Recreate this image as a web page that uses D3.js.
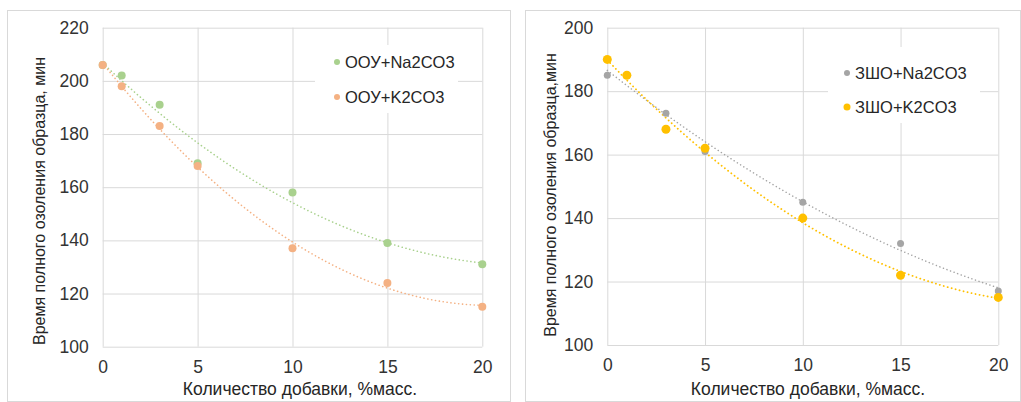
<!DOCTYPE html>
<html>
  <head>
    <meta charset="utf-8">
    <title></title>
    <style>
      body {
        margin: 0;
        background: #fff;
        font-family: "Liberation Sans", Arial, sans-serif;
      }
      svg {
        display: block;
      }
      .axis .domain {
        stroke: none;
      }
      .grid line {
        stroke: #d9d9d9;
      }
    </style>
  </head>
  <body>
    <svg width="1021" height="402"></svg>
    <script src="https://cdn.jsdelivr.net/npm/d3@7"></script>
    <script>

      // additive amount, % mass
      let xValues = [0, 1, 3, 5, 10, 15, 20];
      let xTicks = [0, 5, 10, 15, 20];

      // left chart
      let oouNa = [206, 202, 191, 169, 158, 139, 131];
      let oouK = [206, 198, 183, 168, 137, 124, 115];
      let leftTicks = [100, 120, 140, 160, 180, 200, 220];

      // right chart
      let zshoNa = [185, 185, 173, 161, 145, 132, 117];
      let zshoK = [190, 185, 168, 162, 140, 122, 115];
      let rightTicks = [100, 120, 140, 160, 180, 200];

      let svg = d3.select('svg');

      // quadratic least-squares fit, like an Excel polynomial trendline
      function polyFit(xs, ys) {
        let s = [0, 0, 0, 0, 0], t = [0, 0, 0];
        xs.forEach((x, i) => {
          for (let k = 0; k < 5; k++) s[k] += Math.pow(x, k);
          for (let k = 0; k < 3; k++) t[k] += ys[i] * Math.pow(x, k);
        });
        let m = [
          [s[0], s[1], s[2], t[0]],
          [s[1], s[2], s[3], t[1]],
          [s[2], s[3], s[4], t[2]]
        ];
        for (let c = 0; c < 3; c++) {
          for (let r = c + 1; r < 3; r++) {
            let f = m[r][c] / m[c][c];
            for (let k = c; k < 4; k++) m[r][k] -= f * m[c][k];
          }
        }
        let a = [0, 0, 0];
        for (let r = 2; r >= 0; r--) {
          let v = m[r][3];
          for (let k = r + 1; k < 3; k++) v -= m[r][k] * a[k];
          a[r] = v / m[r][r];
        }
        return x => a[0] + a[1] * x + a[2] * x * x;
      }

      function drawChart(opt) {
        let g = svg.append('g');

        // outer frame
        g.append('rect')
          .attr('x', opt.frame[0] + 0.5).attr('y', opt.frame[1] + 0.5)
          .attr('width', opt.frame[2]).attr('height', opt.frame[3])
          .attr('fill', 'none').attr('stroke', '#d9d9d9');

        let x = d3.scaleLinear().domain([0, 20]).range(opt.xRange);
        let y = d3.scaleLinear().domain(d3.extent(opt.yTicks)).range(opt.yRange);
        let w = opt.xRange[1] - opt.xRange[0];
        let h = opt.yRange[0] - opt.yRange[1];

        g.append('g')
          .attr('class', 'axis grid')
          .attr('transform', 'translate(' + opt.xRange[0] + ',0)')
          .call(d3.axisLeft(y).tickValues(opt.yTicks).tickSize(-w).tickPadding(14));

        g.append('g')
          .attr('class', 'axis grid')
          .attr('transform', 'translate(0,' + opt.yRange[0] + ')')
          .call(d3.axisBottom(x).tickValues(xTicks).tickSize(-h).tickPadding(14));

        g.selectAll('.axis')
          .attr('font-family', null)
          .attr('font-size', 17.5);
        g.selectAll('.axis text').attr('fill', '#333');

        // legend box hides the grid under it
        g.append('rect')
          .attr('x', opt.legendBox[0]).attr('y', opt.legendBox[1])
          .attr('width', opt.legendBox[2]).attr('height', opt.legendBox[3])
          .attr('fill', '#fff');

        let line = d3.line()
          .x(d => x(d[0]))
          .y(d => y(d[1]));

        opt.series.forEach(s => {
          let f = polyFit(xValues, s.values);
          let pts = d3.range(0, 20.01, 0.25).map(v => [v, f(v)]);
          g.append('path')
            .datum(pts)
            .attr('fill', 'none')
            .attr('stroke', s.color)
            .attr('stroke-width', s.lw)
            .attr('stroke-linecap', 'round')
            .attr('stroke-dasharray', '0.1,' + (s.lw + 2.2))
            .attr('d', line);
        });

        opt.series.forEach(s => {
          g.append('g').selectAll('circle')
            .data(s.values)
            .join('circle')
            .attr('cx', (d, i) => x(xValues[i]))
            .attr('cy', d => y(d))
            .attr('r', s.r)
            .attr('fill', s.color);
        });

        // legend
        opt.series.forEach((s, i) => {
          let ly = opt.legendY[i];
          g.append('circle')
            .attr('cx', opt.legendX).attr('cy', ly)
            .attr('r', s.lr).attr('fill', s.color);
          g.append('text')
            .attr('x', opt.legendX + 8).attr('y', ly + 6)
            .attr('font-size', 16.5).attr('fill', '#262626')
            .text(s.name);
        });

        // axis titles
        g.append('text')
          .attr('x', opt.xTitle[0]).attr('y', opt.xTitle[1])
          .attr('text-anchor', 'middle')
          .attr('font-size', 17.5).attr('fill', '#262626')
          .text('Количество добавки, %масс.');

        g.append('text')
          .attr('transform', 'translate(' + opt.yTitle[0] + ',' + opt.yTitle[1] + ') rotate(-90)')
          .attr('text-anchor', 'middle')
          .attr('font-size', 16).attr('fill', '#262626')
          .text(opt.yTitleText);
      }

      drawChart({
        frame: [7, 10, 503, 391],
        xRange: [102.7, 482.3],
        yRange: [346.7, 27.7],
        yTicks: leftTicks,
        legendBox: [315, 45, 143, 68],
        legendX: 337,
        legendY: [62, 97],
        xTitle: [300, 395],
        yTitle: [45, 201],
        yTitleText: 'Время полного озоления образца, мин',
        series: [
          {name: 'ООУ+Na2CO3', values: oouNa, color: '#a9d18e', r: 4, lr: 3, lw: 1.6},
          {name: 'ООУ+K2CO3', values: oouK, color: '#f4b183', r: 4, lr: 3, lw: 1.6}
        ]
      });

      drawChart({
        frame: [525, 10, 495, 391],
        xRange: [607.3, 998.3],
        yRange: [345, 27.7],
        yTicks: rightTicks,
        legendBox: [828, 47, 152, 76],
        legendX: 847,
        legendY: [73, 107],
        xTitle: [808, 395],
        yTitle: [556, 195],
        yTitleText: 'Время полного озоления образца,мин',
        series: [
          {name: 'ЗШО+Na2CO3', values: zshoNa, color: '#a5a5a5', r: 3.5, lr: 3, lw: 1.5},
          {name: 'ЗШО+K2CO3', values: zshoK, color: '#ffc000', r: 4.5, lr: 3.5, lw: 1.8}
        ]
      });

    </script>
  </body>
</html>
